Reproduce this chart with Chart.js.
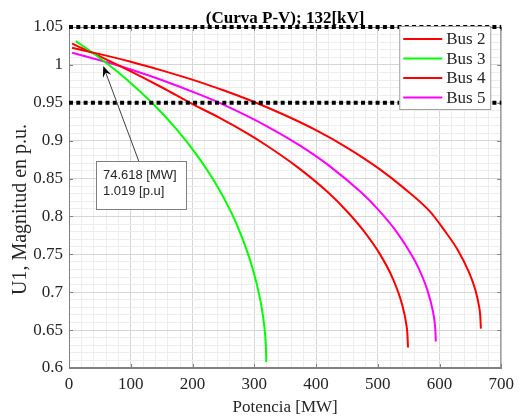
<!DOCTYPE html>
<html>
<head>
<meta charset="utf-8">
<script src="https://cdn.jsdelivr.net/npm/chart.js@4"></script>
<style>
  html, body { margin: 0; padding: 0; background: #fff; }
  #wrap { width: 520px; height: 419px; }
</style>
</head>
<body>
<div id="wrap"><canvas id="pv" width="520" height="419"></canvas></div>
<script>
// ── Data ──────────────────────────────────────────────────────
const busNames = ["Bus 2", "Bus 3", "Bus 4", "Bus 5"];
const busColors = ["#ff0000", "#00ff00", "#ff0000", "#ff00ff"];

const bus2P = [5, 50, 100, 150, 212, 250, 298, 350, 400, 450, 503, 540, 584, 608, 630, 648, 658, 664, 666, 667];
const bus2U = [1.0225, 1.0142, 1.0042, 0.9928, 0.9773, 0.9665, 0.9517, 0.9335, 0.9138, 0.8909, 0.8625, 0.839, 0.807, 0.7816, 0.7552, 0.726, 0.7032, 0.6816, 0.669, 0.652];

const bus3P = [11, 40, 93, 138, 175, 205, 237, 263, 280, 292, 300, 308, 312, 316, 318, 319, 319.5];
const bus3U = [1.0313, 1.015, 0.9811, 0.947, 0.9143, 0.8833, 0.8442, 0.805, 0.7727, 0.7454, 0.7237, 0.6968, 0.6798, 0.657, 0.640, 0.625, 0.608];

const bus4P = [5, 50, 100, 150, 201, 244, 290, 320, 370, 418, 450, 476, 504, 524, 540, 546, 548, 549];
const bus4U = [1.0281, 1.0113, 0.9915, 0.9705, 0.9478, 0.9301, 0.909, 0.8936, 0.8651, 0.8328, 0.8069, 0.7822, 0.7496, 0.7187, 0.6822, 0.6589, 0.645, 0.627];

const bus5P = [5, 50, 100, 150, 212, 250, 320, 373, 422, 473, 500, 530, 557, 567, 580, 589, 592, 593.5, 594];
const bus5U = [1.016, 1.0061, 0.994, 0.9801, 0.9607, 0.9476, 0.9193, 0.894, 0.8664, 0.8318, 0.8097, 0.7803, 0.7462, 0.7302, 0.7038, 0.6762, 0.6611, 0.647, 0.635];

const xTicks = [0, 100, 200, 300, 400, 500, 600, 700];
const yTicks = [0.6, 0.65, 0.7, 0.75, 0.8, 0.85, 0.9, 0.95, 1, 1.05];

const limitLow = 0.95;
const limitHigh = 1.05;

// data tip: text, box corners and arrow (in P / U units)
const noteLines = ["74.618 [MW]", "1.019 [p.u]"];
const noteBoxP = [43.6, 190];
const noteBoxU = [0.873, 0.809];
const noteTail = [113, 0.873];
const noteTip = [55.5, 0.9985];

// ── Helpers ───────────────────────────────────────────────────
const SERIF = "'Liberation Serif', 'Times New Roman', serif";
const SANS = "'Liberation Sans', Arial, sans-serif";
const TEXT = "#262626";

const toPoints = (p, u) => p.map((x, i) => ({ x, y: u[i] }));
const isTick = (list, v) => list.some((t) => Math.abs(t - v) < 1e-6);

const curve = (i, p, u) => ({
  label: busNames[i],
  data: toPoints(p, u),
  borderColor: busColors[i],
  backgroundColor: busColors[i],
  borderWidth: 2,
  pointRadius: 0,
  fill: false,
  cubicInterpolationMode: "monotone",
  order: 1,
});

const limitLine = (u) => ({
  label: "limit " + u,
  data: [{ x: xTicks[0], y: u }, { x: xTicks[xTicks.length - 1], y: u }],
  borderColor: "#000",
  borderWidth: 4,
  borderDash: [4, 3.3],
  pointRadius: 0,
  fill: false,
  clip: false,
  order: 0,
});

// ── Plugins ───────────────────────────────────────────────────
const framePlugin = {
  id: "frame",
  beforeDatasetsDraw(chart) {
    const { ctx, chartArea: a, scales: { x, y } } = chart;
    ctx.save();
    ctx.strokeStyle = "#808080";
    ctx.lineWidth = 1;
    ctx.strokeRect(a.left + 0.5, a.top + 0.5, a.width - 1, a.height - 1);
    ctx.beginPath();
    xTicks.forEach((v) => {
      const px = Math.round(x.getPixelForValue(v)) + 0.5;
      ctx.moveTo(px, a.bottom); ctx.lineTo(px, a.bottom - 4);
      ctx.moveTo(px, a.top); ctx.lineTo(px, a.top + 4);
    });
    yTicks.forEach((v) => {
      const py = Math.round(y.getPixelForValue(v)) + 0.5;
      ctx.moveTo(a.left, py); ctx.lineTo(a.left + 4, py);
      ctx.moveTo(a.right, py); ctx.lineTo(a.right - 4, py);
    });
    ctx.stroke();
    ctx.restore();
  },
};

const notePlugin = {
  id: "note",
  afterDatasetsDraw(chart) {
    const { ctx, scales: { x, y } } = chart;
    const bx0 = x.getPixelForValue(noteBoxP[0]);
    const bx1 = x.getPixelForValue(noteBoxP[1]);
    const by0 = y.getPixelForValue(noteBoxU[0]);
    const by1 = y.getPixelForValue(noteBoxU[1]);
    const tx = x.getPixelForValue(noteTail[0]);
    const ty = y.getPixelForValue(noteTail[1]);
    const hx = x.getPixelForValue(noteTip[0]);
    const hy = y.getPixelForValue(noteTip[1]);

    ctx.save();
    // arrow shaft
    const len = Math.hypot(hx - tx, hy - ty);
    const ux = (hx - tx) / len, uy = (hy - ty) / len;
    ctx.strokeStyle = "#404040";
    ctx.lineWidth = 1;
    ctx.beginPath();
    ctx.moveTo(tx, ty);
    ctx.lineTo(hx - ux * 6, hy - uy * 6);
    ctx.stroke();
    // arrow head
    const back = 11, half = 4.5, notch = 7;
    ctx.fillStyle = "#000";
    ctx.beginPath();
    ctx.moveTo(hx, hy);
    ctx.lineTo(hx - ux * back - uy * half, hy - uy * back + ux * half);
    ctx.lineTo(hx - ux * notch, hy - uy * notch);
    ctx.lineTo(hx - ux * back + uy * half, hy - uy * back - ux * half);
    ctx.closePath();
    ctx.fill();

    // box
    ctx.fillStyle = "#fff";
    ctx.fillRect(bx0, by0, bx1 - bx0, by1 - by0);
    ctx.strokeStyle = "#7f7f7f";
    ctx.strokeRect(Math.round(bx0) + 0.5, Math.round(by0) + 0.5, Math.round(bx1 - bx0), Math.round(by1 - by0));
    ctx.fillStyle = TEXT;
    ctx.font = "13px " + SANS;
    ctx.textBaseline = "middle";
    ctx.textAlign = "left";
    noteLines.forEach((t, i) => ctx.fillText(t, bx0 + 7, by0 + 14 + i * 16.7));
    ctx.restore();
  },
};

const legendPlugin = {
  id: "boxLegend",
  afterDraw(chart) {
    const { ctx, chartArea: a } = chart;
    const sets = chart.data.datasets.filter((d) => busNames.includes(d.label));
    const left = a.right - 102, top = a.top - 1, w = 91, h = 83;
    ctx.save();
    ctx.fillStyle = "#fff";
    ctx.fillRect(left, top, w, h);
    ctx.strokeStyle = "#a0a0a0";
    ctx.lineWidth = 1;
    ctx.strokeRect(left + 0.5, top + 0.5, w, h);
    ctx.font = "17px " + SERIF;
    ctx.textBaseline = "middle";
    ctx.textAlign = "left";
    sets.forEach((d, i) => {
      const ry = top + 13 + i * 19.5;
      ctx.strokeStyle = d.borderColor;
      ctx.lineWidth = 2;
      ctx.beginPath();
      ctx.moveTo(left + 4, ry);
      ctx.lineTo(left + 43, ry);
      ctx.stroke();
      ctx.fillStyle = TEXT;
      ctx.fillText(d.label, left + 47, ry + 1);
    });
    ctx.restore();
  },
};

const titlePlugin = {
  id: "plotTitle",
  afterDraw(chart) {
    const { ctx, chartArea: a } = chart;
    ctx.save();
    ctx.fillStyle = "#000";
    ctx.font = "bold 17px " + SERIF;
    ctx.textAlign = "center";
    ctx.textBaseline = "middle";
    ctx.fillText("(Curva P-V); 132[kV]", (a.left + a.right) / 2, a.top - 8);

    // y axis label
    ctx.fillStyle = TEXT;
    ctx.font = "20px " + SERIF;
    ctx.translate(21, (a.top + a.bottom) / 2 + 12);
    ctx.rotate(-Math.PI / 2);
    ctx.fillText("U1, Magnitud en p.u.", 0, 0);
    ctx.restore();
  },
};

// ── Chart ─────────────────────────────────────────────────────
new Chart(document.getElementById("pv").getContext("2d"), {
  type: "line",
  data: {
    datasets: [
      curve(0, bus2P, bus2U),
      curve(1, bus3P, bus3U),
      curve(2, bus4P, bus4U),
      curve(3, bus5P, bus5U),
      limitLine(limitHigh),
      limitLine(limitLow),
    ],
  },
  options: {
    responsive: false,
    animation: false,
    layout: { padding: { top: 27, right: 18, left: 0, bottom: 0 } },
    plugins: {
      legend: { display: false },
      title: { display: false },
      tooltip: { enabled: false },
    },
    scales: {
      x: {
        type: "linear",
        min: 0,
        max: 700,
        afterFit: (s) => { s.height = 51; },
        ticks: {
          stepSize: 20,
          autoSkip: false,
          maxRotation: 0,
          padding: 6,
          color: TEXT,
          font: { family: SERIF, size: 17 },
          callback: (v) => (isTick(xTicks, v) ? String(v) : ""),
        },
        grid: {
          drawTicks: false,
          color: (c) => (isTick(xTicks, c.tick.value) ? "#d6d6d6" : "#ededed"),
        },
        border: { display: true, color: "#808080" },
        title: {
          display: true,
          text: "Potencia [MW]",
          color: TEXT,
          font: { family: SERIF, size: 17 },
          padding: { top: 0, bottom: 1 },
        },
      },
      y: {
        type: "linear",
        min: 0.6,
        max: 1.05,
        afterFit: (s) => { s.width = 69; },
        ticks: {
          stepSize: 0.01,
          autoSkip: false,
          padding: 6,
          color: TEXT,
          font: { family: SERIF, size: 17 },
          callback: (v) => (isTick(yTicks, v) ? String(+v.toFixed(2)) : ""),
        },
        grid: {
          drawTicks: false,
          color: (c) => (isTick(yTicks, c.tick.value) ? "#d6d6d6" : "#ededed"),
        },
        border: { display: true, color: "#808080" },
      },
    },
  },
  plugins: [framePlugin, notePlugin, legendPlugin, titlePlugin],
});
</script>
</body>
</html>
